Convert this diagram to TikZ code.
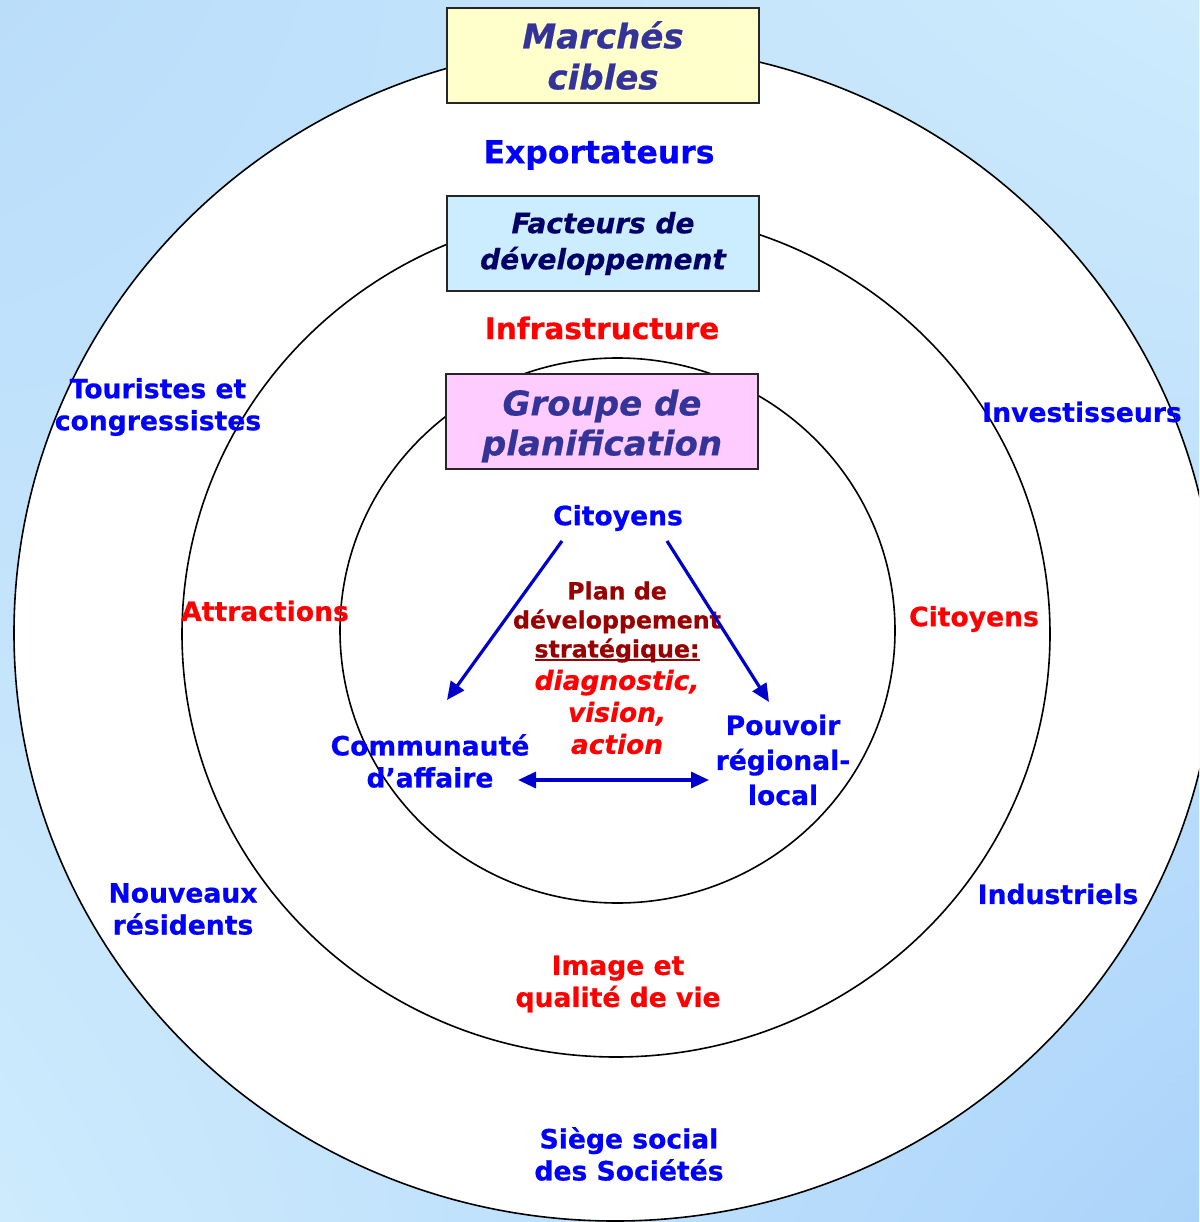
\documentclass[tikz,border=0pt]{standalone}
\usepackage{fontspec}
\setmainfont{DejaVu Sans}[BoldFeatures={FakeBold=0.6},BoldItalicFeatures={FakeBold=0.6}]
\usetikzlibrary{arrows.meta,shadings}
\definecolor{txtblue}{HTML}{0000FF}
\definecolor{txtred}{HTML}{FF0000}
\definecolor{txtdred}{HTML}{990000}
\definecolor{boxtxt}{HTML}{333399}
\definecolor{boxtxtb}{HTML}{000066}
\definecolor{arrowblue}{HTML}{0000CC}
\definecolor{fillyellow}{HTML}{FFFFCC}
\definecolor{fillblue}{HTML}{CCECFF}
\definecolor{fillpink}{HTML}{FFCCFF}
\definecolor{bgA}{RGB}{186,221,250}
\definecolor{bgB}{RGB}{206,235,253}
\definecolor{bgC}{RGB}{172,212,250}
\newcommand\ulthick[1]{\setbox0\hbox{#1}\rlap{\rule[-4pt]{\wd0}{2pt}}\box0}
\tikzset{
  circ/.style={draw=black, line width=1.6pt, fill=white},
  box/.style={draw=black!85, line width=1.5pt, minimum width=312pt, minimum height=95pt, inner sep=0pt, align=center},
  lbl/.style={inner sep=0pt, align=center},
  lblfont/.style={font={\fontsize{26.6}{32}\selectfont\bfseries}},
  arr/.style={draw=arrowblue, line width=3.2pt, -{Triangle[length=18pt,width=16pt]}},
  darr/.style={draw=arrowblue, line width=3.2pt, {Triangle[length=18pt,width=16pt]}-{Triangle[length=18pt,width=16pt]}},
}
\begin{document}
\begin{tikzpicture}[x=1pt,y=-1pt]
\useasboundingbox (0,0) rectangle (1199,1222);
\clip (0,0) rectangle (1199,1222);
\shade[upper left=bgA, upper right=bgB, lower left=bgB, lower right=bgC] (0,0) rectangle (1199,1222);
% circles
\draw[circ] (615,633) ellipse [x radius=601pt, y radius=588pt];
\draw[circ] (616,634) ellipse [x radius=434pt, y radius=423pt];
\draw[circ] (617.5,630.5) ellipse [x radius=277.5pt, y radius=272.5pt];
% boxes
\node[box, fill=fillyellow, text=boxtxt, font={\fontsize{34}{41}\selectfont\bfseries\itshape}] (marches) at (603,55.5) {Marchés\\cibles};
\node[box, fill=fillblue, text=boxtxtb, font={\fontsize{28}{36}\selectfont\bfseries\itshape}] (facteurs) at (603,243.5) {Facteurs de\\développement};
\node[box, fill=fillpink] (groupe) at (602,421.5) {};
\node[lbl, text=boxtxt, font={\fontsize{34}{40}\selectfont\bfseries\itshape}] (groupetxt) at (602,426) {Groupe de\\planification};
% labels
\node[lbl, text=txtblue, font={\fontsize{31.5}{36}\selectfont\bfseries}] (export) at (599,155) {Exportateurs};
\node[lbl, text=txtred, font={\fontsize{29.6}{36}\selectfont\bfseries}] (infra) at (602,328) {Infrastructure};
\node[lbl, text=txtblue, lblfont] (citin) at (618,518) {Citoyens};
\node[lbl, text=txtblue, lblfont] (touristes) at (158,407) {Touristes et\\congressistes};
\node[lbl, text=txtblue, lblfont] (invest) at (1082,412) {Investisseurs};
\node[lbl, text=txtred, lblfont] (attr) at (265,611) {Attractions};
\node[lbl, text=txtred, lblfont] (citout) at (974,619) {Citoyens};
\node[lbl, text=txtdred, font={\fontsize{23.7}{29}\selectfont\bfseries}] (plan) at (617,622) {Plan de\\développement\\\ulthick{stratégique:}};
\node[lbl, text=txtred, font={\fontsize{26.4}{32}\selectfont\bfseries\itshape}] (diag) at (617,712) {diagnostic,\\vision,\\action};
\node[lbl, text=txtblue, lblfont] (comm) at (430,761) {Communauté\\d’affaire};
\node[lbl, text=txtblue, font={\fontsize{26.6}{35}\selectfont\bfseries}] (pouvoir) at (783,760) {Pouvoir\\régional-\\local};
\node[lbl, text=txtblue, lblfont] (nouveaux) at (183,909) {Nouveaux\\résidents};
\node[lbl, text=txtblue, lblfont] (indus) at (1058,894) {Industriels};
\node[lbl, text=txtred, lblfont] (image) at (618,984) {Image et\\qualité de vie};
\node[lbl, text=txtblue, lblfont] (siege) at (629,1154) {Siège social\\des Sociétés};
% arrow end points
\coordinate (aLs) at (562,541);
\coordinate (aLe) at (447,700);
\coordinate (aRs) at (667,541);
\coordinate (aRe) at (769,702);
\coordinate (hL) at (518,780);
\coordinate (hR) at (709,780);
\draw[arr] (aLs) -- (aLe);
\draw[arr] (aRs) -- (aRe);
\draw[darr] (hL) -- (hR);
\end{tikzpicture}
\end{document}
